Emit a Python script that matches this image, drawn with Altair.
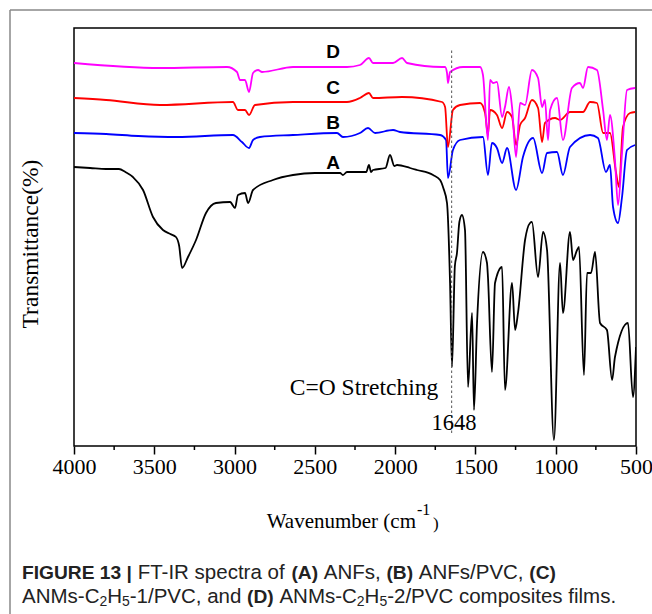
import altair as alt
import pandas as pd

# ---- spectra (wavenumber cm-1, transmittance a.u.) ----
A_w = [4000, 3900, 3800, 3720, 3680, 3633, 3570, 3508, 3446, 3400, 3365, 3345, 3327, 3290, 3240, 3178,
       3116, 3028, 2997, 2979, 2935, 2916, 2885, 2761, 2636, 2500, 2343, 2325, 2300, 2219, 2180, 2163,
       2150, 2138, 2060, 2032, 2005, 1988, 1907, 1864, 1764, 1720, 1700, 1677, 1658, 1646, 1628, 1615,
       1600, 1584, 1565, 1546, 1521, 1509, 1490, 1453, 1428, 1422, 1397, 1378, 1334, 1316, 1272, 1253,
       1235, 1191, 1160, 1148, 1110, 1079, 1054, 1011, 973, 955, 911, 892, 867, 855, 824, 805, 780, 755,
       724, 681, 649, 631, 550, 519, 500]
A_t = [279, 278, 277, 277, 274, 269, 256, 229, 216, 212, 209, 200, 178, 189, 206, 233,
       243, 244, 238, 251, 253, 243, 256, 266, 271, 273, 273, 271, 274, 274, 274, 281,
       274, 276, 278, 291, 280, 281, 278, 276, 271, 266, 258, 243, 163, 79, 180, 193,
       224, 231, 216, 59, 133, 36, 123, 194, 183, 169, 74, 163, 179, 56, 163, 116,
       133, 206, 223, 224, 169, 214, 196, 6, 183, 133, 214, 186, 196, 199, 71, 173, 173, 194,
       123, 116, 66, 89, 123, 49, 99]

B_w = [4000, 3800, 3600, 3359, 3010, 2954, 2910, 2885, 2842, 2636, 2362, 2325, 2219, 2169, 2125, 2013,
       1970, 1720, 1683, 1671, 1640, 1596, 1453, 1422, 1397, 1366, 1334, 1303, 1247, 1204, 1141, 1085,
       1054, 992, 955, 911, 786, 737, 687, 662, 643, 612, 587, 556, 506]
B_t = [313, 312, 310, 309, 311, 304, 298, 306, 309, 311, 313, 309, 313, 318, 313, 316,
       314, 311, 306, 268, 296, 306, 309, 271, 303, 298, 283, 298, 256, 289, 308, 273,
       293, 294, 271, 299, 311, 308, 274, 281, 239, 223, 249, 296, 301]

C_w = [4000, 3800, 3464, 3010, 2979, 2935, 2910, 2873, 2636, 2300, 2219, 2163, 2138, 1957, 1708, 1689,
       1671, 1640, 1596, 1471, 1440, 1422, 1409, 1366, 1334, 1303, 1272, 1247, 1222, 1191, 1148, 1110,
       1085, 1067, 1004, 973, 911, 830, 786, 743, 705, 662, 624, 606, 581, 537, 506]
C_t = [348, 346, 341, 344, 336, 336, 331, 341, 344, 344, 348, 353, 348, 349, 344, 339,
       299, 336, 341, 343, 333, 311, 336, 331, 318, 334, 329, 301, 321, 328, 346, 338,
       304, 323, 328, 326, 334, 334, 344, 343, 313, 313, 273, 259, 319, 333, 334]

D_w = [4000, 3464, 3047, 2985, 2966, 2935, 2910, 2885, 2854, 2829, 2636, 2300, 2219, 2163, 2138, 2013,
       1957, 1926, 1708, 1689, 1677, 1671, 1658, 1577, 1471, 1453, 1422, 1409, 1390, 1366, 1334, 1316,
       1291, 1272, 1247, 1222, 1191, 1148, 1110, 1085, 1067, 1048, 1035, 992, 955, 899, 849, 830,
       799, 743, 705, 681, 662, 631, 612, 587, 556, 506]
D_t = [383, 378, 379, 374, 366, 366, 354, 373, 376, 374, 379, 379, 381, 388, 383, 383,
       388, 383, 379, 379, 373, 363, 374, 379, 379, 371, 306, 366, 363, 364, 329, 339,
       359, 339, 289, 343, 341, 376, 368, 339, 346, 306, 336, 348, 306, 358, 363, 358,
       379, 376, 336, 306, 331, 286, 241, 293, 356, 358]

series_names = ["A", "B", "C", "D"]
series_colors = ["#000000", "#0000FF", "#FF0000", "#FF00FF"]
label_w = [2387, 2387, 2387, 2387]
label_t = [283, 323, 358, 394]

x_ticks = [4000, 3500, 3000, 2500, 2000, 1500, 1000, 500]
minor_ticks = [3750, 3250, 2750, 2250, 1750, 1250, 750]
peak_w = 1648

rows = []
for name, ws, ts in zip(series_names, [A_w, B_w, C_w, D_w], [A_t, B_t, C_t, D_t]):
    for i, (w, t) in enumerate(zip(ws, ts)):
        rows.append({"series": name, "w": w, "t": t, "order": i})
df = pd.DataFrame(rows)
lab = pd.DataFrame({"series": series_names, "w": label_w, "t": label_t})

W, H = 562, 418
SERIF = "Liberation Serif"
SANS = "Liberation Sans"

xs = alt.Scale(domain=[500, 4000], reverse=True, nice=False, zero=False)
ys = alt.Scale(domain=[0, 418], nice=False, zero=False)

lines = alt.Chart(df).mark_line(strokeWidth=1.8, clip=True, interpolate="monotone").encode(
    x=alt.X("w:Q", scale=xs, axis=alt.Axis(values=x_ticks, format="d", title=None, labelFont=SERIF,
                                          labelFontSize=22, labelColor="black", tickSize=8,
                                          tickWidth=1.5, tickColor="black", domain=False, grid=False,
                                          labelPadding=2, labelFlush=False)),
    y=alt.Y("t:Q", scale=ys, axis=None),
    color=alt.Color("series:N", scale=alt.Scale(domain=series_names, range=series_colors), legend=None),
    order="order:Q",
)

labels = alt.Chart(lab).mark_text(font=SANS, fontWeight="bold", fontSize=19, color="black").encode(
    x=alt.X("w:Q", scale=xs), y=alt.Y("t:Q", scale=ys), text="series:N"
)

minor = alt.Chart(pd.DataFrame({"w": minor_ticks})).mark_rule(color="black", strokeWidth=1.5).encode(
    x=alt.X("w:Q", scale=xs), y=alt.value(H), y2=alt.value(H + 4)
)

peak = pd.DataFrame({"w": [peak_w], "t0": [13], "t1": [398]})
dash = alt.Chart(peak).mark_rule(color="#555555", strokeWidth=1, strokeDash=[2.5, 2.5]).encode(
    x=alt.X("w:Q", scale=xs), y=alt.Y("t0:Q", scale=ys), y2="t1:Q"
)

ann = pd.DataFrame({"w": [2194, 1633], "t": [58, 23], "txt": ["C=O Stretching", "1648"],
                    "fs": [23.5, 22.5]})
annot = alt.Chart(ann).mark_text(font=SERIF, color="black").encode(
    x=alt.X("w:Q", scale=xs), y=alt.Y("t:Q", scale=ys), text="txt:N",
    size=alt.Size("fs:Q", scale=None, legend=None)
)

ox, oy = 74, 28  # view origin in the page


def txt(s, x, y, size, font=SANS, weight="normal", align="left", color="#222222", angle=0):
    return alt.Chart(pd.DataFrame({"s": [s]})).mark_text(
        font=font, fontSize=size, fontWeight=weight, align=align, baseline="middle",
        color=color, angle=angle).encode(x=alt.value(x - ox), y=alt.value(y - oy), text="s:N")


# Arial-like advance widths (per 1000 em) for laying out the caption runs
REG = {" ": 278, "(": 333, ")": 333, ",": 278, "-": 333, ".": 278, "/": 278, "|": 260,
       "1": 556, "2": 556, "3": 556, "5": 556, "A": 667, "C": 722, "D": 722, "F": 611, "H": 722,
       "I": 278, "M": 833, "N": 722, "P": 667, "R": 722, "T": 611, "V": 667, "a": 556, "c": 500,
       "d": 556, "e": 556, "f": 278, "i": 222, "l": 222, "m": 833, "n": 556, "o": 556, "p": 556,
       "r": 333, "s": 500, "t": 278}
BLD = {" ": 278, "(": 333, ")": 333, "|": 280, "1": 556, "3": 556, "A": 722, "B": 722, "C": 722,
       "D": 722, "E": 667, "F": 611, "G": 778, "I": 278, "R": 722, "U": 722}


def width(s, size, bold):
    tab = BLD if bold else REG
    return sum(tab.get(ch, 556) for ch in s) * size / 1000.0


FS_REG = 20.5
FS_BOLD = 19.2
texts = [
    txt("Wavenumber (cm", 416, 522, 21, font=SERIF, align="right", color="black"),
    txt("-1", 417, 510, 16, font=SERIF, color="black"),
    txt(")", 433, 524, 17, font=SERIF, color="black"),
    txt("Transmittance(%)", 31, 244, 23.5, font=SERIF, align="center", color="black", angle=270),
]
# caption runs: (text, bold, subscript)
cap_lines = [
    (573, [("FIGURE 13 |", True, False), (" FT-IR spectra of ", False, False), ("(A)", True, False),
           (" ANFs, ", False, False), ("(B)", True, False), (" ANFs/PVC, ", False, False),
           ("(C)", True, False)]),
    (597, [("ANMs-C", False, False), ("2", False, True), ("H", False, False), ("5", False, True),
           ("-1/PVC, and ", False, False), ("(D)", True, False), (" ANMs-C", False, False),
           ("2", False, True), ("H", False, False), ("5", False, True),
           ("-2/PVC composites films.", False, False)]),
]
for ybase, runs in cap_lines:
    x = 22.0
    for s, bold, sub in runs:
        size = (FS_BOLD if bold else FS_REG) * (0.68 if sub else 1.0)
        yy = ybase + 5 if sub else ybase
        lead = len(s) - len(s.lstrip(" "))
        x += width(" " * lead, size, bold)
        core = s.strip(" ")
        texts.append(txt(core, x, yy, size, weight="bold" if bold else "normal"))
        x += width(s.lstrip(" "), size, bold)

border = [
    alt.Chart(pd.DataFrame({"a": [0]})).mark_rule(color="#888888", strokeWidth=1.5).encode(
        x=alt.value(10 - ox), x2=alt.value(652 - ox), y=alt.value(10 - oy)),
    alt.Chart(pd.DataFrame({"a": [0]})).mark_rule(color="#888888", strokeWidth=1.5).encode(
        x=alt.value(10 - ox), y=alt.value(10 - oy), y2=alt.value(614 - oy)),
]

chart = alt.layer(lines, minor, dash, labels, annot, *texts, *border).properties(
    width=W, height=H,
    autosize=alt.AutoSizeParams(type="none"),
    padding={"left": ox, "top": oy, "right": 652 - ox - W, "bottom": 614 - oy - H},
    background="white",
).configure_view(stroke="black", strokeWidth=1.5)

chart.save("out.html", embed_options={"renderer": "svg", "actions": False})
